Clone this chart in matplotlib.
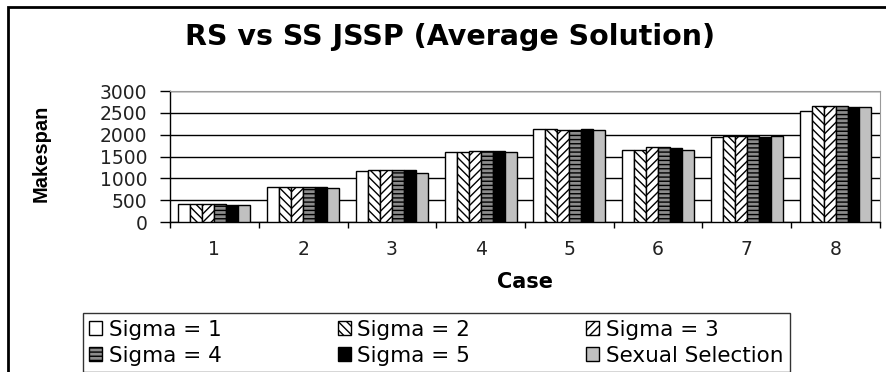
import numpy as np
import matplotlib.pyplot as plt
from matplotlib.patches import Rectangle

plt.rcParams['font.family'] = ['DejaVu Sans']
plt.rcParams['hatch.linewidth'] = 1.0

# Average makespan per case, one list per configuration
cases = ['1', '2', '3', '4', '5', '6', '7', '8']
sigma_1 = [410, 810, 1170, 1610, 2130, 1660, 1940, 2555]
sigma_2 = [410, 810, 1200, 1610, 2130, 1660, 1975, 2670]
sigma_3 = [410, 810, 1200, 1630, 2100, 1720, 1975, 2670]
sigma_4 = [410, 810, 1200, 1630, 2100, 1720, 1975, 2670]
sigma_5 = [380, 810, 1200, 1630, 2130, 1690, 1940, 2645]
sexual_sel = [385, 785, 1120, 1610, 2100, 1660, 1975, 2630]
series_labels = ['Sigma = 1', 'Sigma = 2', 'Sigma = 3',
                 'Sigma = 4', 'Sigma = 5', 'Sexual Selection']
y_ticks = [0, 500, 1000, 1500, 2000, 2500, 3000]

series = [sigma_1, sigma_2, sigma_3, sigma_4, sigma_5, sexual_sel]
styles = [
    dict(color='white', hatch=None),
    dict(color='white', hatch='\\\\\\\\'),
    dict(color='white', hatch='////'),
    dict(color='#8c8c8c', hatch='----'),
    dict(color='black', hatch=None),
    dict(color='#c0c0c0', hatch=None),
]

fig = plt.figure(figsize=(8.87, 3.72), dpi=100)
ax = fig.add_axes([0.1917, 0.403, 0.8003, 0.352])

# outer chart frame (only top and left edges fall inside the image)
fig.patches.append(Rectangle((8 / 887, -0.1), 1.2, 1 - 7 / 372 + 0.1,
                             transform=fig.transFigure, fill=False,
                             edgecolor='black', linewidth=2.0))

x = np.arange(len(cases))
n = len(series)
bw = 0.81 / n
bars = []
for i, (vals, st) in enumerate(zip(series, styles)):
    b = ax.bar(x - 0.405 + bw * (i + 0.5), vals, bw, facecolor=st['color'],
               hatch=st['hatch'], edgecolor='black', linewidth=1.0,
               zorder=3, label=series_labels[i])
    bars.append(b)

ax.set_xlim(-0.5, len(cases) - 0.5)
ax.set_ylim(0, 3000)
ax.set_yticks(y_ticks)
ax.set_yticklabels([str(v) for v in y_ticks], fontsize=13.5, color='#222222')
ax.yaxis.grid(True, color='black', linewidth=1.0, zorder=0)
ax.set_axisbelow(True)

# boundary ticks between cases, labels centred on each case
ax.set_xticks(np.arange(len(cases) + 1) - 0.5)
ax.set_xticklabels([])
ax.set_xticks(x, minor=True)
ax.set_xticklabels(cases, minor=True, fontsize=13.5, color='#222222')
ax.tick_params(axis='x', which='major', direction='out', length=4.5, width=1)
ax.tick_params(axis='x', which='minor', length=0, pad=13)
ax.tick_params(axis='y', direction='out', length=7.2, width=1, pad=9)

for side in ['top', 'right']:
    ax.spines[side].set_color('#9a9a9a')
for side in ['left', 'bottom']:
    ax.spines[side].set_color('black')
    ax.spines[side].set_linewidth(1.0)

ax.set_xlabel('Case', fontsize=15, fontweight='bold', labelpad=9)
ax.set_ylabel('Makespan', fontsize=14.5, fontweight='bold',
              family=['Liberation Sans'])
ax.yaxis.set_label_coords(-0.168, 0.527)

fig.text(0.507, 0.9, 'RS vs SS JSSP (Average Solution)', fontsize=20.5,
         fontweight='bold', ha='center', va='center')

order = [0, 3, 1, 4, 2, 5]
leg = fig.legend([bars[i] for i in order], [series_labels[i] for i in order],
                 ncol=3, loc='lower left', bbox_to_anchor=(83 / 887, 0.0),
                 fontsize=15.5, frameon=True, fancybox=False,
                 handlelength=0.6, handleheight=0.6, handletextpad=0.3,
                 columnspacing=5.4, labelspacing=0.28, borderpad=0.3,
                 borderaxespad=0.0)
leg.get_frame().set_edgecolor('black')
leg.get_frame().set_linewidth(1.0)

fig.savefig('out.png', dpi=100)
